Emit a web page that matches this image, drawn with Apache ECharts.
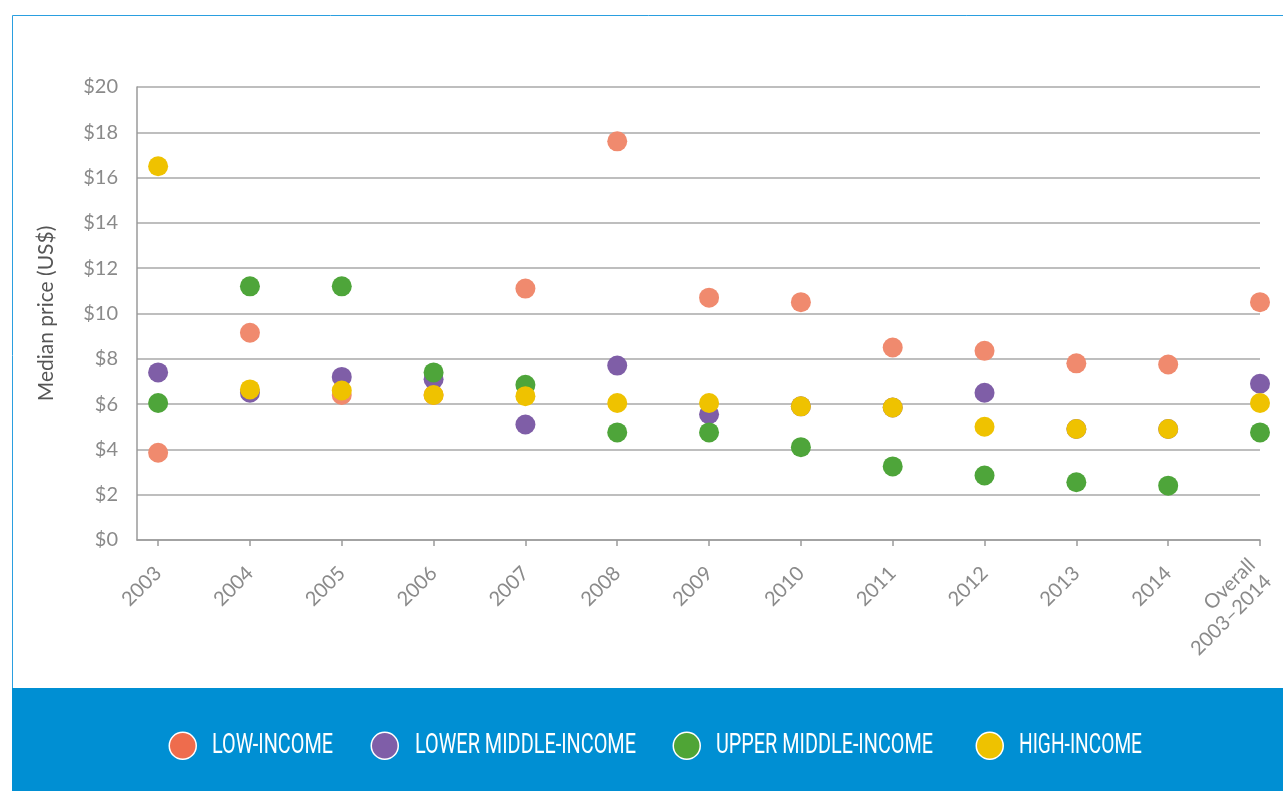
<!DOCTYPE html>
<html>
<head>
<meta charset="utf-8">
<script src="https://cdn.jsdelivr.net/npm/echarts@6/dist/echarts.min.js"></script>
<style>
  html, body { margin: 0; padding: 0; background: #fff; }
  #chart { width: 1283px; height: 791px; }
</style>
</head>
<body>
<div id="chart"></div>
<script>
  // categories along the x axis
  var years = ['2003', '2004', '2005', '2006', '2007', '2008', '2009', '2010', '2011', '2012', '2013', '2014', 'Overall\n2003–2014'];

  // median price per income group (US$)
  var lowIncome = [3.85, 9.15, 6.4, 6.4, 11.1, 17.6, 10.7, 10.5, 8.5, 8.35, 7.8, 7.75, 10.5];
  var lowerMiddle = [7.4, 6.5, 7.2, 7.1, 5.1, 7.7, 5.55, 5.9, 5.85, 6.5, 4.9, 4.9, 6.9];
  var upperMiddle = [6.05, 11.2, 11.2, 7.4, 6.85, 4.75, 4.75, 4.1, 3.25, 2.85, 2.55, 2.4, 4.75];
  var highIncome = [16.5, 6.65, 6.6, 6.4, 6.35, 6.05, 6.05, 5.9, 5.85, 5.0, 4.9, 4.9, 6.05];

  var groups = [
    { name: 'LOW-INCOME', data: lowIncome, color: '#F08A6E', legendColor: '#EE6C4D' },
    { name: 'LOWER MIDDLE-INCOME', data: lowerMiddle, color: '#7F5EA7', legendColor: '#7F5EA8' },
    { name: 'UPPER MIDDLE-INCOME', data: upperMiddle, color: '#4EA53A', legendColor: '#4FA536' },
    { name: 'HIGH-INCOME', data: highIncome, color: '#EFC200', legendColor: '#EEC200' }
  ];

  // legend layout: circle centre x, text start x, text width (the original uses a condensed face)
  var legendPos = [
    { cx: 182, tx: 212, tw: 121 },
    { cx: 384, tx: 415, tw: 221 },
    { cx: 686, tx: 716, tw: 217 },
    { cx: 989, tx: 1019, tw: 123 }
  ];
  var legendY = 745;
  var legendFont = '28px Roboto';

  var chart = echarts.init(document.getElementById('chart'));

  // measure to squeeze the legend labels into the condensed widths
  var ctx = document.createElement('canvas').getContext('2d');
  ctx.font = legendFont;

  var series = [];
  var legends = [];
  var graphics = [
    {
      type: 'rect',
      shape: { x: 12.5, y: 15.5, width: 1290, height: 680 },
      style: { fill: 'none', stroke: '#2A9FE0', lineWidth: 1 },
      z: -10
    },
    {
      type: 'rect',
      shape: { x: 12, y: 688, width: 1280, height: 110 },
      style: { fill: '#008FD3' },
      z: -5
    }
  ];

  groups.forEach(function (g, i) {
    series.push({
      name: g.name,
      type: 'scatter',
      symbol: 'circle',
      symbolSize: 20,
      itemStyle: { color: g.color, opacity: 1 },
      data: g.data.map(function (v, k) { return [k, v]; })
    });
    var p = legendPos[i];
    legends.push({
      data: [{
        name: g.name,
        icon: 'circle',
        itemStyle: { color: g.legendColor, borderColor: '#fff', borderWidth: 1.5 }
      }],
      left: p.cx - 13.5,
      top: legendY - 13.5,
      padding: 0,
      itemWidth: 27,
      itemHeight: 27,
      selectedMode: false,
      formatter: function () { return ''; }
    });
    var w = ctx.measureText(g.name).width;
    graphics.push({
      type: 'text',
      x: p.tx,
      y: legendY + 1,
      scaleX: p.tw / w,
      style: {
        text: g.name,
        font: legendFont,
        fill: '#fff',
        align: 'left',
        verticalAlign: 'middle'
      },
      z: 10
    });
  });

  var idx = years.map(function (y, i) { return i; });

  var options = {
    animation: false,
    graphic: graphics,
    grid: {
      left: 137,
      right: 23,
      top: 87,
      bottom: 251
    },
    legend: legends,
    xAxis: {
      type: 'value',
      min: -0.23,
      max: 12,
      splitLine: { show: false },
      axisLine: { show: true, onZero: false, lineStyle: { color: '#9a9a9a', width: 1.5 } },
      axisTick: {
        show: true,
        length: 6,
        customValues: idx,
        lineStyle: { color: '#9a9a9a', width: 1.5 }
      },
      axisLabel: {
        customValues: idx,
        rotate: 45,
        margin: 30,
        color: '#8a8a8a',
        fontFamily: 'Lato',
        fontSize: 20,
        lineHeight: 23,
        formatter: function (v) { return years[Math.round(v)]; }
      }
    },
    yAxis: {
      type: 'value',
      min: 0,
      max: 20,
      interval: 2,
      name: 'Median price (US$)',
      nameLocation: 'middle',
      nameGap: 80,
      nameTextStyle: { color: '#555', fontFamily: 'Lato', fontSize: 21 },
      axisLine: { show: true, onZero: false, lineStyle: { color: '#9a9a9a', width: 1.5 } },
      axisTick: { show: false },
      splitLine: { lineStyle: { color: '#a8a8a8', width: 1.5 } },
      axisLabel: {
        margin: 19,
        color: '#8a8a8a',
        fontFamily: 'Lato',
        fontSize: 20,
        formatter: function (v) { return '$' + v; }
      }
    },
    series: series
  };

  chart.setOption(options);
</script>
</body>
</html>
